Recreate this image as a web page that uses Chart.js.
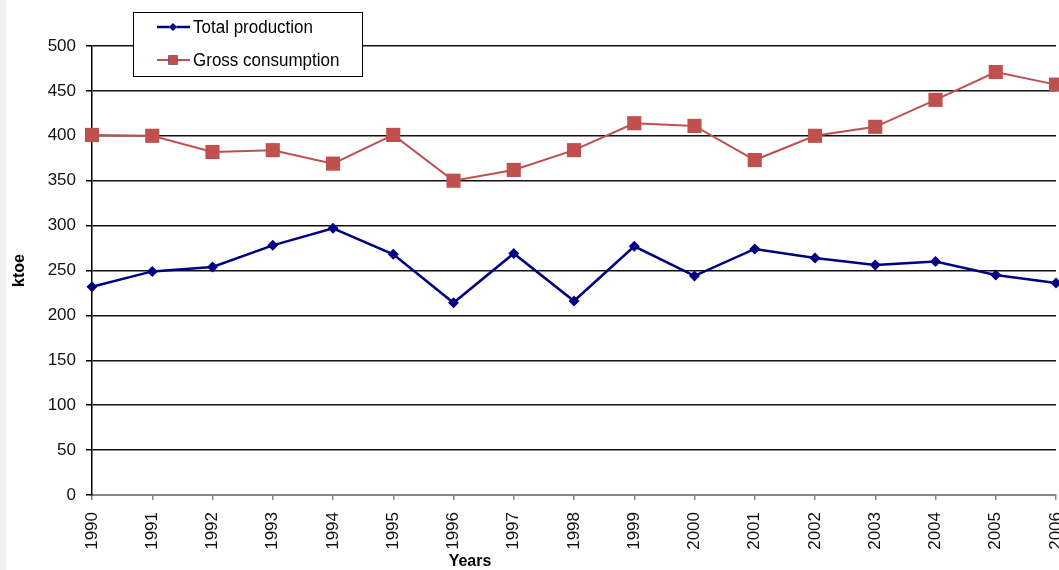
<!DOCTYPE html>
<html>
<head>
<meta charset="utf-8">
<script src="https://cdn.jsdelivr.net/npm/chart.js@4"></script>
<style>
  html, body { margin: 0; padding: 0; background: #fff; }
  #wrap { position: relative; width: 1059px; height: 570px; overflow: hidden; }
  #strip { position: absolute; left: 0; top: 0; width: 6px; height: 570px; background: #f0f0f0; }
  canvas { position: absolute; left: 0; top: 0; }
</style>
</head>
<body>
<div id="wrap">
  <div id="strip"></div>
  <canvas id="c" width="1059" height="570"></canvas>
</div>
<script>
// Years on the horizontal axis
const years = ['1990','1991','1992','1993','1994','1995','1996','1997','1998',
               '1999','2000','2001','2002','2003','2004','2005','2006'];

// Energy figures in ktoe
const totalProduction = [232, 249, 254, 278, 297, 268, 214, 269, 216,
                         277, 244, 274, 264, 256, 260, 245, 236];
const grossConsumption = [401, 400, 382, 384, 369, 401, 350, 362, 384,
                          414, 411, 373, 400, 410, 440, 471, 457];

const seriesNames = ['Total production', 'Gross consumption'];
const yTitle = 'ktoe';
const xTitle = 'Years';

const NAVY = '#000080';
const BRICK = '#C0504D';
const FONT = "'Liberation Sans', Arial, sans-serif";

// Legend box drawn inside the plot, plus the horizontal axis title
const overlay = {
  id: 'overlay',
  afterDraw(chart) {
    const ctx = chart.ctx;
    ctx.save();
    // legend frame
    ctx.fillStyle = '#fff';
    ctx.fillRect(133, 12, 229, 64);
    ctx.strokeStyle = '#000';
    ctx.lineWidth = 1;
    ctx.strokeRect(133.5, 12.5, 229, 64);

    const rows = [
      { y: 27, color: NAVY, style: 'rectRot', radius: 4, width: 2.5, label: seriesNames[0] },
      { y: 60, color: BRICK, style: 'rect', radius: 6.5, width: 2, label: seriesNames[1] }
    ];
    rows.forEach(r => {
      ctx.strokeStyle = r.color;
      ctx.lineWidth = r.width;
      ctx.beginPath();
      ctx.moveTo(157, r.y);
      ctx.lineTo(190, r.y);
      ctx.stroke();
      Chart.helpers.drawPoint(ctx, {
        pointStyle: r.style, radius: r.radius, rotation: 0, borderWidth: 0
      }, 173, r.y);
      ctx.fillStyle = r.color;
      ctx.fill();
      // slightly tall lettering, as in the legend face
      ctx.save();
      ctx.translate(193, r.y + 1);
      ctx.scale(1, 1.1);
      ctx.fillStyle = '#000';
      ctx.font = '17px ' + FONT;
      ctx.textAlign = 'left';
      ctx.textBaseline = 'middle';
      ctx.fillText(r.label, 0, 0);
      ctx.restore();
    });

    // horizontal axis title
    ctx.font = 'bold 16px ' + FONT;
    ctx.fillStyle = '#000';
    ctx.textAlign = 'center';
    ctx.textBaseline = 'middle';
    ctx.fillText(xTitle, 470, 562);
    ctx.restore();
  }
};

new Chart(document.getElementById('c'), {
  type: 'line',
  data: {
    labels: years,
    datasets: [
      {
        label: seriesNames[0],
        data: totalProduction,
        borderColor: NAVY,
        backgroundColor: NAVY,
        borderWidth: 2.5,
        pointStyle: 'rectRot',
        pointRadius: 5.5,
        pointBorderWidth: 0,
        tension: 0
      },
      {
        label: seriesNames[1],
        data: grossConsumption,
        borderColor: BRICK,
        backgroundColor: BRICK,
        borderWidth: 2,
        pointStyle: 'rect',
        pointRadius: 10,
        pointBorderWidth: 0,
        tension: 0
      }
    ]
  },
  options: {
    responsive: false,
    animation: false,
    devicePixelRatio: 1,
    layout: { autoPadding: false, padding: { top: 46, right: 3, bottom: 0, left: 0 } },
    plugins: {
      legend: { display: false },
      tooltip: { enabled: false }
    },
    scales: {
      x: {
        offset: false,
        grid: {
          drawOnChartArea: false,
          drawTicks: true,
          tickLength: 5,
          color: '#888',
          lineWidth: 1.5
        },
        border: { color: '#888', width: 2 },
        ticks: {
          autoSkip: false,
          minRotation: 90,
          maxRotation: 90,
          padding: 12,
          color: '#111',
          font: { family: FONT, size: 17 }
        },
        afterFit(scale) {
          scale.height = 75;
          scale.paddingLeft = 0;
          scale.paddingRight = 0;
        }
      },
      y: {
        min: 0,
        max: 500,
        grid: {
          color: ctx => (ctx.tick && ctx.tick.value === 0) ? 'rgba(0,0,0,0)' : '#111',
          lineWidth: 1.5,
          tickColor: '#000',
          tickLength: 6,
          tickWidth: 1.5
        },
        border: { color: '#000', width: 1.5 },
        ticks: {
          stepSize: 50,
          padding: 10,
          color: '#111',
          font: { family: FONT, size: 17 }
        },
        title: {
          display: true,
          text: yTitle,
          color: '#000',
          padding: { top: 12, bottom: 0 },
          font: { family: FONT, size: 16, weight: 'bold', lineHeight: 1 }
        },
        afterFit(scale) {
          scale.width = 92;
          scale.paddingTop = 0;
          scale.paddingBottom = 0;
        }
      }
    }
  },
  plugins: [overlay]
});
</script>
</body>
</html>
